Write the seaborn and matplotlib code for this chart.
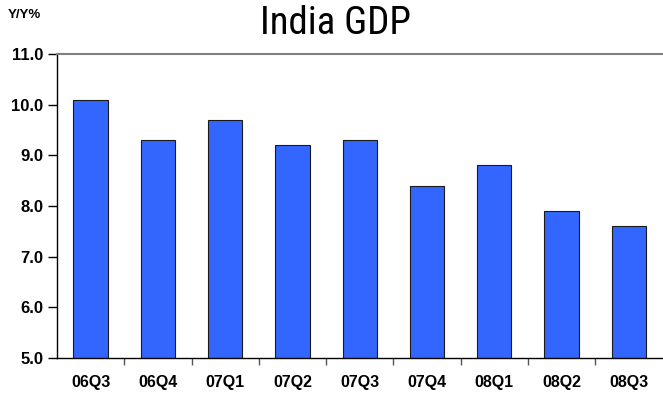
import matplotlib
matplotlib.use("Agg")
import matplotlib.pyplot as plt
import seaborn as sns
import numpy as np
from matplotlib.ticker import FixedLocator
from matplotlib import font_manager

quarters = ["06Q3", "06Q4", "07Q1", "07Q2", "07Q3", "07Q4", "08Q1", "08Q2", "08Q3"]
gdp_yoy = [10.1, 9.3, 9.7, 9.2, 9.3, 8.4, 8.8, 7.9, 7.6]
y_ticks = [5.0, 6.0, 7.0, 8.0, 9.0, 10.0, 11.0]

sns.set_style("white")
plt.rcParams['font.family'] = ['Liberation Sans', 'DejaVu Sans']
plt.rcParams['text.color'] = 'black'
plt.rcParams['xtick.color'] = 'black'
plt.rcParams['ytick.color'] = 'black'

names = {f.name for f in font_manager.fontManager.ttflist}
narrow = None
for cand in ["Liberation Sans Narrow", "Arial Narrow", "DejaVu Sans Condensed", "Roboto Condensed"]:
    if cand in names:
        narrow = cand
        break

fig = plt.figure(figsize=(6.63, 3.93), dpi=100)
ax = fig.add_axes([57/663, 35/393, 1 - 57/663 - 0.001, (358-54)/393])

sns.barplot(x=quarters, y=gdp_yoy, color="#3366FF", saturation=1, width=0.51,
            edgecolor="#1a1a1a", linewidth=0.8, ax=ax)

ax.set_ylim(5, 11)
ax.set_xlim(-0.5, len(quarters) - 0.5)
ax.set_yticks(y_ticks)
ax.set_yticklabels([f"{v:.1f}" for v in y_ticks], fontweight="bold", fontsize=12, color="black")
ax.set_xticks(range(len(quarters)))
ax.set_xticklabels(quarters, fontweight="bold", fontsize=11.5, color="black")
ax.xaxis.set_minor_locator(FixedLocator(np.arange(0.5, len(quarters) - 0.5, 1.0)))
ax.tick_params(axis="x", which="major", length=0, pad=12)
ax.tick_params(axis="x", which="minor", length=5, width=1, color="#555555", direction="out", bottom=True)
ax.tick_params(axis="y", which="major", length=6.5, width=1, color="black", direction="out", left=True, pad=3.5)

for s in ["left", "bottom"]:
    ax.spines[s].set_color("black")
    ax.spines[s].set_linewidth(1.0)
ax.spines["top"].set_color("#808080")
ax.spines["top"].set_linewidth(1.5)
ax.spines["right"].set_visible(False)
ax.set_xlabel("")
ax.set_ylabel("")

if narrow:
    fig.text(335/663, 1 - 24/393, "India GDP", ha="center", va="center", fontsize=28,
             family=[narrow, "Liberation Sans", "DejaVu Sans"], color="black")
else:
    fig.text(335/663, 1 - 24/393, "India GDP", ha="center", va="center", fontsize=24,
             family=["Liberation Sans", "DejaVu Sans"], color="black")
fig.text(8/663, 1 - 15/393, "Y/Y%", ha="left", va="center", fontsize=9.5, fontweight="bold", color="black")

fig.savefig("out.png", dpi=100)
